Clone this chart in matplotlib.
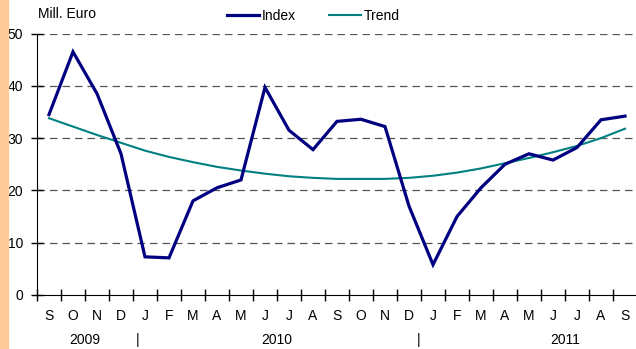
import matplotlib.pyplot as plt
import matplotlib.patches as mpatches

plt.rcParams['font.family'] = ['Liberation Sans', 'DejaVu Sans']

# Monatswerte Sep 2009 - Sep 2011
monate = ['S', 'O', 'N', 'D', 'J', 'F', 'M', 'A', 'M', 'J', 'J', 'A',
          'S', 'O', 'N', 'D', 'J', 'F', 'M', 'A', 'M', 'J', 'J', 'A', 'S']
index = [34.5, 46.5, 38.5, 27.0, 7.3, 7.1, 18.0, 20.5, 22.0, 39.7, 31.5, 27.8,
         33.2, 33.6, 32.2, 17.0, 5.8, 15.0, 20.5, 25.0, 27.0, 25.8, 28.2, 33.5, 34.2]
trend = [33.8, 32.2, 30.6, 29.1, 27.6, 26.4, 25.4, 24.5, 23.8, 23.2, 22.7, 22.4,
         22.2, 22.2, 22.2, 22.4, 22.8, 23.4, 24.2, 25.2, 26.2, 27.3, 28.5, 30.0, 31.8]
jahre = ['2009', '2010', '2011']
jahr_pos = [1.5, 9.5, 21.5]
trenner = [3.7, 15.4]

fs = 10

fig = plt.figure(figsize=(6.36, 3.49), dpi=100)
# orangefarbener Rand links
fig.patches.append(mpatches.Rectangle((0, 0), 7.5 / 636, 1, transform=fig.transFigure,
                                      color='#FFCC99', zorder=0))

ax = fig.add_axes([37 / 636, 54 / 349, 600 / 636, 261.5 / 349])
x = range(len(monate))
ax.plot(x, index, color='#000080', lw=2.3, label='Index', solid_joinstyle='miter', zorder=3)
ax.plot(x, trend, color='#008080', lw=1.5, label='Trend', zorder=2)

ax.set_xlim(-0.5, 24.5)
ax.set_ylim(0, 50)
ax.set_yticks([0, 10, 20, 30, 40, 50])
ax.set_xticks([i - 0.5 for i in range(25)])
ax.set_xticklabels([])
ax.tick_params(axis='both', direction='inout', length=8, width=1, labelsize=fs, pad=4)
ax.tick_params(axis='y', pad=6)
for v in [10, 20, 30, 40, 50]:
    ax.axhline(v, color='#555555', lw=0.9, ls=(0, (6, 4)), zorder=1)
for s in ['top', 'right']:
    ax.spines[s].set_visible(False)

# Monatsbuchstaben und Jahre
for i, m in enumerate(monate):
    ax.text(i, -2.6, m, ha='center', va='top', fontsize=fs, clip_on=False)
for p, j in zip(jahr_pos, jahre):
    ax.text(p, -7.3, j, ha='center', va='top', fontsize=fs, clip_on=False)
for t in trenner:
    ax.text(t, -7.3, '|', ha='center', va='top', fontsize=fs, clip_on=False)

fig.text(38 / 636, 1 - 14 / 349, 'Mill. Euro', fontsize=fs, va='center')
ax.legend(loc='upper left', bbox_to_anchor=(227 / 636, 1 - 9 / 349), bbox_transform=fig.transFigure,
          ncol=2, frameon=False, fontsize=fs, handlelength=2.3, handletextpad=0.2,
          columnspacing=2.4, borderpad=0, borderaxespad=0)

fig.savefig('out.png', dpi=100)
